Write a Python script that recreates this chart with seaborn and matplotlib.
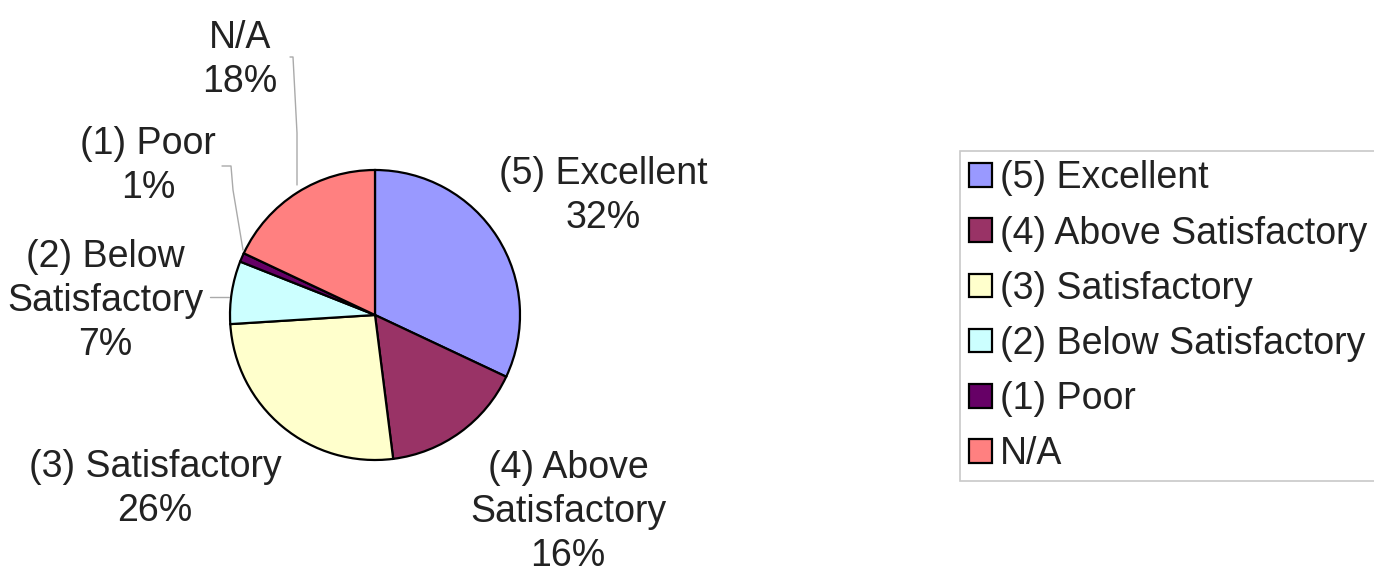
import matplotlib
matplotlib.use("Agg")
import matplotlib.pyplot as plt
import seaborn as sns

# data
categories = ['(5) Excellent', '(4) Above Satisfactory', '(3) Satisfactory',
              '(2) Below Satisfactory', '(1) Poor', 'N/A']
shares = [32, 16, 26, 7, 1, 18]
slice_labels = ['(5) Excellent\n32%', '(4) Above\nSatisfactory\n16%', '(3) Satisfactory\n26%',
                '(2) Below\nSatisfactory\n7%', '(1) Poor\n1%', 'N/A\n18%']
slice_colors = ['#9999FF', '#993366', '#FFFFCC', '#CCFFFF', '#660066', '#FF8080']

# label centres in pixels (layout only)
label_pos = [(603, 196), (568, 512), (155, 489), (105, 301), (148, 166), (240, 60)]

W, H = 1374, 572
sns.set_theme(style="white")
plt.rcParams['font.family'] = ['Liberation Sans', 'DejaVu Sans']

fig = plt.figure(figsize=(W / 100, H / 100), dpi=100)
cx, cy, r = 375, 315, 145
ax = fig.add_axes([(cx - r) / W, (H - cy - r) / H, 2 * r / W, 2 * r / H])

palette = sns.color_palette(slice_colors)
wedges, _ = ax.pie(shares, colors=palette, startangle=90, counterclock=False,
                   wedgeprops=dict(edgecolor='black', linewidth=1.6))
ax.set_xlim(-1, 1)
ax.set_ylim(-1, 1)
ax.set_aspect('equal')
ax.axis('off')

for txt, (px, py) in zip(slice_labels, label_pos):
    fig.text(px / W, 1 - py / H, txt, ha='center', va='center', fontsize=27,
             color='#222222', linespacing=1.3)

# leader lines (pixel paths)
leaders = [
    [(290, 57), (293, 57), (297, 133), (297, 185)],
    [(222, 166), (231, 166), (233, 190), (243, 250)],
    [(210, 297), (229, 297)],
]
for path in leaders:
    xs = [p[0] / W for p in path]
    ys = [1 - p[1] / H for p in path]
    fig.add_artist(plt.Line2D(xs, ys, color='#aaaaaa', linewidth=1.0))

leg = fig.legend(wedges, categories, loc='upper left',
                 bbox_to_anchor=(960 / W, 1 - 151 / H), fontsize=27,
                 frameon=True, fancybox=False, borderaxespad=0,
                 handlelength=0.6, handleheight=0.6, handletextpad=0.22,
                 labelspacing=0.51, borderpad=0.25)
leg.get_frame().set_edgecolor('#bbbbbb')
leg.get_frame().set_linewidth(1.2)
for t in leg.get_texts():
    t.set_color('#222222')
for h in leg.legend_handles:
    h.set_edgecolor('black')
    h.set_linewidth(1.6)

fig.savefig('out.png', dpi=100)
